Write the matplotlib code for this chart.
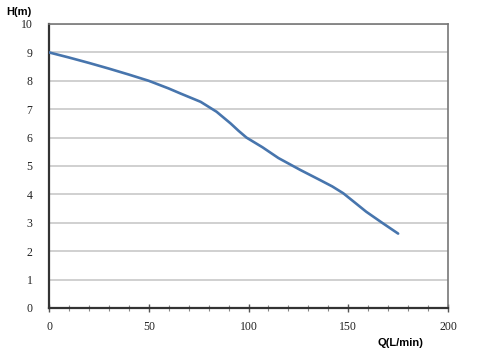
import numpy as np
import matplotlib.pyplot as plt
from matplotlib.ticker import MultipleLocator

# flow (L/min) vs head (m)
flow = [0, 10, 20, 30, 40, 50, 60, 66, 76, 84, 91, 95, 99, 103, 107, 115, 126, 136,
        142, 147.5, 153, 159, 167, 175]
head = [9.0, 8.82, 8.63, 8.43, 8.22, 8.0, 7.73, 7.55, 7.26, 6.91, 6.5, 6.24, 6.0, 5.83,
        5.66, 5.28, 4.86, 4.5, 4.28, 4.04, 3.73, 3.39, 3.0, 2.62]

x_ticks = [0, 50, 100, 150, 200]
y_ticks = list(range(0, 11))

fig = plt.figure(figsize=(4.94, 3.58), dpi=100)
ax = fig.add_axes([49/494, 1 - 308/358, (448 - 49)/494, (308 - 24)/358])

ax.plot(flow, head, color='#4775ad', lw=1.9, solid_capstyle='round',
        solid_joinstyle='round', zorder=3)

ax.set_xlim(0, 200)
ax.set_ylim(0, 10)
ax.set_xticks(x_ticks)
ax.set_yticks(y_ticks)
ax.xaxis.set_minor_locator(MultipleLocator(10))

ax.grid(axis='y', color='#c8c8c8', lw=1.2)
ax.set_axisbelow(True)

for s in ['left', 'bottom']:
    ax.spines[s].set_color('#333333')
    ax.spines[s].set_linewidth(1.6)
for s in ['top', 'right']:
    ax.spines[s].set_color('#777777')
    ax.spines[s].set_linewidth(1.2)

ax.tick_params(axis='y', length=0, pad=12, labelsize=8.5, colors='#222222')
ax.tick_params(axis='x', which='major', direction='inout', length=6, width=1.0,
               color='#555555', pad=6, labelsize=8.5, labelcolor='#222222')
ax.tick_params(axis='x', which='minor', direction='inout', length=4, width=0.8,
               color='#888888')
for lab in ax.get_xticklabels() + ax.get_yticklabels():
    lab.set_family('Liberation Serif')

fig.text(6/494, 1 - 12/358, 'H(m)', fontsize=8, fontweight='bold',
         family='Liberation Sans', va='center', ha='left')
fig.text(400/494, 1 - 343/358, 'Q(L/min)', fontsize=8, fontweight='bold',
         family='Liberation Sans', va='center', ha='center')

fig.savefig('out.png', dpi=100)
